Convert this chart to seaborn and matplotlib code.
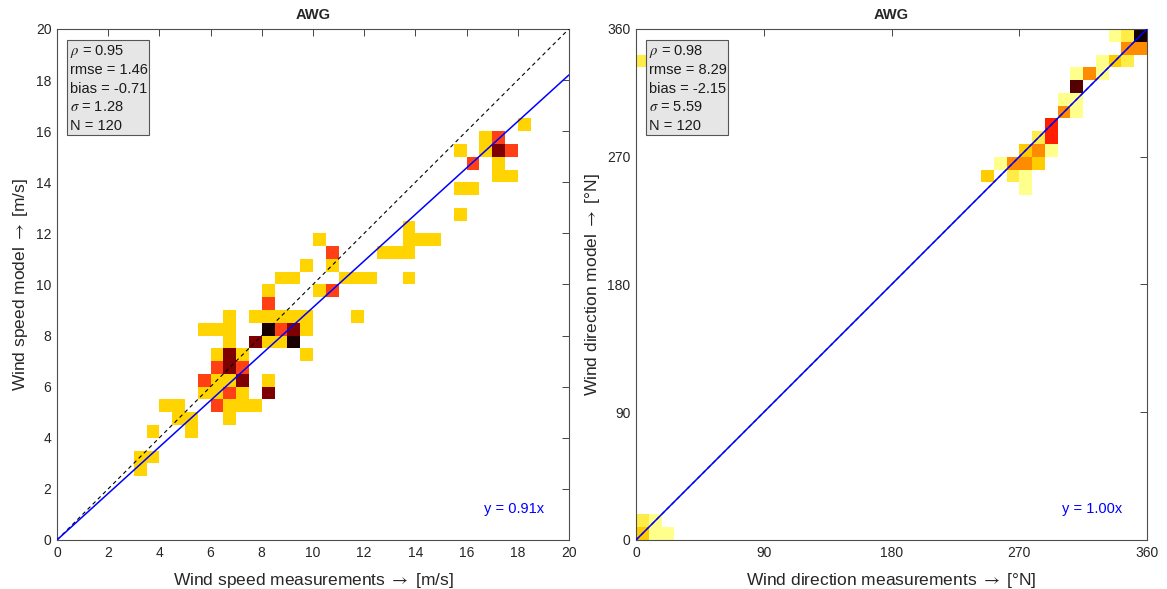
import numpy as np
import matplotlib
matplotlib.use("Agg")
import matplotlib.pyplot as plt
import seaborn as sns
from matplotlib.colors import ListedColormap
from matplotlib.patches import Rectangle

# ---------------- data: wind speed (bin centres, counts) ----------------
speed_meas = [18.25,
              16.75, 17.25,
              15.75, 16.75, 17.25, 17.75,
              16.25, 17.25,
              17.25, 17.75,
              15.75, 16.25,
              15.75,
              13.75,
              10.25, 13.75, 14.25, 14.75,
              10.75, 12.75, 13.25, 13.75,
              9.75, 10.75,
              8.75, 9.25, 11.25, 11.75, 12.25, 13.75,
              8.25, 10.25, 10.75,
              8.25,
              6.75, 7.75, 8.25, 8.75, 9.25, 9.75, 11.75,
              5.75, 6.25, 6.75, 8.25, 8.75, 9.25, 9.75,
              6.75, 7.75, 8.25, 8.75, 9.25,
              6.25, 6.75, 7.25, 9.75,
              6.25, 6.75, 7.25,
              5.75, 6.25, 6.75, 7.25, 8.25,
              5.75, 6.25, 6.75, 7.25, 8.25,
              4.25, 4.75, 6.25, 6.75, 7.25, 7.75,
              4.75, 5.25, 6.75,
              3.75, 5.25,
              3.25, 3.75,
              3.25]
speed_model = [16.25,
               15.75, 15.75,
               15.25, 15.25, 15.25, 15.25,
               14.75, 14.75,
               14.25, 14.25,
               13.75, 13.75,
               12.75,
               12.25,
               11.75, 11.75, 11.75, 11.75,
               11.25, 11.25, 11.25, 11.25,
               10.75, 10.75,
               10.25, 10.25, 10.25, 10.25, 10.25, 10.25,
               9.75, 9.75, 9.75,
               9.25,
               8.75, 8.75, 8.75, 8.75, 8.75, 8.75, 8.75,
               8.25, 8.25, 8.25, 8.25, 8.25, 8.25, 8.25,
               7.75, 7.75, 7.75, 7.75, 7.75,
               7.25, 7.25, 7.25, 7.25,
               6.75, 6.75, 6.75,
               6.25, 6.25, 6.25, 6.25, 6.25,
               5.75, 5.75, 5.75, 5.75, 5.75,
               5.25, 5.25, 5.25, 5.25, 5.25, 5.25,
               4.75, 4.75, 4.75,
               4.25, 4.25,
               3.25, 3.25,
               2.75]
speed_count = [1,
               1, 2,
               1, 1, 3, 2,
               2, 1,
               1, 1,
               1, 1,
               1,
               1,
               1, 1, 1, 1,
               2, 1, 1, 1,
               1, 1,
               1, 1, 1, 1, 1, 1,
               1, 1, 2,
               2,
               1, 1, 1, 1, 1, 1, 1,
               1, 1, 1, 4, 2, 3, 1,
               1, 3, 1, 1, 4,
               1, 3, 1, 1,
               2, 3, 2,
               2, 1, 1, 3, 1,
               1, 1, 2, 1, 3,
               1, 1, 2, 1, 1, 1,
               1, 1, 1,
               1, 1,
               1, 1,
               1]
speed_slope = 0.91
speed_stats = [r"$\rho$ = 0.95", "rmse = 1.46", "bias = -0.71",
               r"$\sigma$ = 1.28", "N = 120"]
speed_ticks = [0, 2, 4, 6, 8, 10, 12, 14, 16, 18, 20]
speed_colors = ["#FFD400", "#FF4014", "#7E0000", "#1A0000"]

# ---------------- data: wind direction (bin centres, counts) -------------
dir_meas = [337.5, 346.5, 355.5,
            346.5, 355.5,
            328.5, 337.5, 346.5,
            310.5, 319.5, 328.5,
            310.5,
            301.5, 310.5,
            301.5, 310.5,
            292.5,
            283.5, 292.5,
            274.5, 283.5, 292.5,
            256.5, 265.5, 274.5, 283.5,
            247.5, 265.5, 274.5,
            274.5,
            4.5,
            4.5, 13.5,
            4.5, 13.5, 22.5]
dir_model = [355.5, 355.5, 355.5,
             346.5, 346.5,
             337.5, 337.5, 337.5,
             328.5, 328.5, 328.5,
             319.5,
             310.5, 310.5,
             301.5, 301.5,
             292.5,
             283.5, 283.5,
             274.5, 274.5, 274.5,
             265.5, 265.5, 265.5, 265.5,
             256.5, 256.5, 256.5,
             247.5,
             337.5,
             13.5, 13.5,
             4.5, 4.5, 4.5]
dir_count = [1, 2, 8,
             4, 4,
             1, 3, 2,
             1, 4, 1,
             7,
             1, 1,
             4, 1,
             5,
             2, 5,
             3, 4, 1,
             1, 4, 4, 3,
             3, 2, 1,
             1,
             2,
             2, 1,
             3, 1, 1]
dir_slope = 1.00
dir_stats = [r"$\rho$ = 0.98", "rmse = 8.29", "bias = -2.15",
             r"$\sigma$ = 5.59", "N = 120"]
dir_ticks = [0, 90, 180, 270, 360]
dir_colors = ["#FFFF8C", "#FFEC46", "#FFCC00", "#FF8C00",
              "#FF1E00", "#AA0000", "#520000", "#140000"]

title = "AWG"

# ---------------- style ----------------
sns.set_theme(style="white")
plt.rcParams["font.family"] = ["Liberation Sans", "DejaVu Sans"]
plt.rcParams["mathtext.fontset"] = "stix"

fig = plt.figure(figsize=(11.67, 5.89), dpi=100)
fig.patch.set_facecolor("white")
ax1 = fig.add_axes([0.0488, 0.0832, 0.4387, 0.8676])
ax2 = fig.add_axes([0.5450, 0.0832, 0.4379, 0.8676])

panels = [
    (ax1, speed_meas, speed_model, speed_count, speed_colors, 0.5, 20,
     speed_slope, speed_stats, speed_ticks,
     r"Wind speed measurements $\rightarrow$ [m/s]",
     r"Wind speed model $\rightarrow$ [m/s]"),
    (ax2, dir_meas, dir_model, dir_count, dir_colors, 9, 360,
     dir_slope, dir_stats, dir_ticks,
     "Wind direction measurements $\\rightarrow$ [\u00b0N]",
     "Wind direction model $\\rightarrow$ [\u00b0N]"),
]

for (ax, xm, ym, cnt, cols, bw, lim, slope, stats, ticks,
     xlabel, ylabel) in panels:
    cmap = ListedColormap(cols)
    edges = np.arange(0, lim + bw / 2, bw)
    sns.histplot(x=xm, y=ym, weights=cnt, bins=(edges, edges),
                 cmap=cmap, vmin=0.5, vmax=len(cols) + 0.5, ax=ax,
                 zorder=1)
    ax.axline((0, 0), slope=1.0, color="black", lw=0.8,
              linestyle=(0, (3.5, 3)), zorder=3)
    ax.axline((0, 0), slope=slope, color="#0000FF", lw=1.1, zorder=4)
    ax.set_xlim(0, lim)
    ax.set_ylim(0, lim)
    ax.set_xticks(ticks)
    ax.set_yticks(ticks)
    ax.tick_params(direction="in", top=True, right=True, length=5,
                   width=0.6, color="#262626", labelcolor="#262626",
                   labelsize=10, pad=4)
    for sp in ax.spines.values():
        sp.set_visible(True)
        sp.set_color("#4d4d4d")
        sp.set_linewidth(0.8)
    ax.set_xlabel(xlabel, fontsize=12.5, color="#262626", labelpad=8)
    ax.set_ylabel(ylabel, fontsize=12.5, color="#262626", labelpad=4)
    ax.set_title(title, fontsize=10.5, fontweight="bold", pad=7)

    ax.add_patch(Rectangle((0.02, 0.793), 0.16, 0.185,
                           transform=ax.transAxes, facecolor="#E6E6E6",
                           edgecolor="#555555", lw=0.8, zorder=5))
    for k, s in enumerate(stats):
        ax.text(0.025, 0.956 - 0.0363 * k, s, transform=ax.transAxes,
                fontsize=10.5, va="center", ha="left", color="#1a1a1a",
                zorder=6)
    ax.text(0.951, 0.061, f"y = {slope:.2f}x", transform=ax.transAxes,
            fontsize=10.5, va="center", ha="right", color="#0000FF",
            zorder=6)

fig.savefig("out.png", dpi=100, facecolor="white")
